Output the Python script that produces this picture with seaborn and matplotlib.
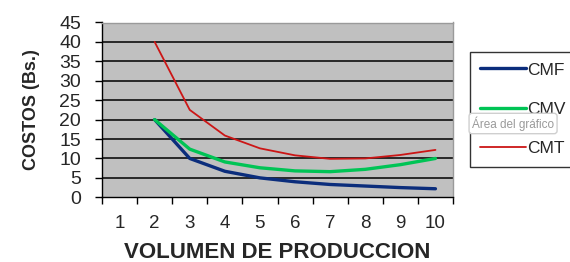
import matplotlib
matplotlib.use('Agg')
import matplotlib.pyplot as plt
import pandas as pd
import seaborn as sns
from matplotlib.ticker import FixedLocator, NullFormatter


# Data (category 1 has no values)
volumen = [2, 3, 4, 5, 6, 7, 8, 9, 10]
cmf = [20, 10, 6.7, 5.0, 4.0, 3.3, 2.9, 2.5, 2.2]
cmv = [20, 12.4, 9.1, 7.6, 6.8, 6.6, 7.2, 8.4, 10.0]
cmt = [40, 22.5, 15.9, 12.6, 10.8, 9.9, 10.0, 10.9, 12.2]
categorias = [str(i) for i in range(1, 11)]
y_ticks = list(range(0, 50, 5))

series = {'CMF': cmf, 'CMV': cmv, 'CMT': cmt}
colors = {'CMF': '#0B2D7C', 'CMV': '#00C455', 'CMT': '#CC1616'}
widths = {'CMF': 2.4, 'CMV': 2.4, 'CMT': 1.3}


def build_frame() -> pd.DataFrame:
    """
    Long form table for seaborn
    """
    rows = []
    for name, values in series.items():
        for v, c in zip(volumen, values):
            rows.append({'volumen': v, 'costo': c, 'serie': name})
    return pd.DataFrame(rows)


def plot_chart(df: pd.DataFrame):
    sns.set_style('white')
    plt.rcParams['font.family'] = ['Liberation Sans', 'DejaVu Sans']

    fig = plt.figure(figsize=(5.7, 2.62), dpi=100)
    ax = fig.add_axes([102 / 570, 1 - 197.3 / 262, (453 - 102) / 570, (197.3 - 22.5) / 262])
    ax.set_facecolor('#C0C0C0')

    for name in series:
        sns.lineplot(data=df[df['serie'] == name], x='volumen', y='costo', ax=ax,
                     color=colors[name], linewidth=widths[name], label=name, zorder=3)

    ax.set_xlim(0.5, 10.5)
    ax.set_ylim(0, 45)

    # horizontal gridlines
    for y in y_ticks[1:-1]:
        ax.axhline(y, color='black', linewidth=1.1, zorder=1)

    # category axis: ticks between categories, labels centered
    ax.xaxis.set_major_locator(FixedLocator([i + 0.5 for i in range(0, 11)]))
    ax.xaxis.set_major_formatter(NullFormatter())
    ax.xaxis.set_minor_locator(FixedLocator(range(1, 11)))
    ax.set_xticklabels(categorias, minor=True)
    ax.tick_params(axis='x', which='major', direction='out', length=5, width=1, color='black', bottom=True)
    ax.tick_params(axis='x', which='minor', length=0, pad=13, labelsize=13.5, bottom=True)

    ax.set_yticks(y_ticks)
    ax.tick_params(axis='y', direction='out', length=5, width=1, color='black', left=True,
                   pad=10, labelsize=14)

    for side in ['left', 'bottom']:
        ax.spines[side].set_color('black')
        ax.spines[side].set_linewidth(1)
    for side in ['right', 'top']:
        ax.spines[side].set_color('#9A9A9A')
        ax.spines[side].set_linewidth(1)

    ax.set_xlabel('VOLUMEN DE PRODUCCION', fontsize=16, fontweight='bold', labelpad=7)
    ax.set_ylabel('COSTOS (Bs.)', fontsize=13, fontweight='bold', labelpad=14)

    handles, labels = ax.get_legend_handles_labels()
    ax.get_legend().remove()
    leg = fig.legend(handles, labels, loc='upper left', bbox_to_anchor=(470 / 570, 1 - 52 / 262),
                     borderaxespad=0, frameon=True, fancybox=False, fontsize=12.5,
                     handlelength=2.6, handletextpad=0.1, labelspacing=1.4,
                     borderpad=0.6)
    leg.get_frame().set_edgecolor('black')
    leg.get_frame().set_linewidth(1)

    fig.text(472 / 570, 1 - 123.5 / 262, 'Área del gráfico', fontsize=8.5, color='#9A9A9A',
             va='center', ha='left', zorder=10,
             bbox=dict(boxstyle='round,pad=0.25', fc='white', ec='#CFCFCF', lw=1))

    fig.savefig('out.png', dpi=100)


if __name__ == '__main__':
    plot_chart(build_frame())
